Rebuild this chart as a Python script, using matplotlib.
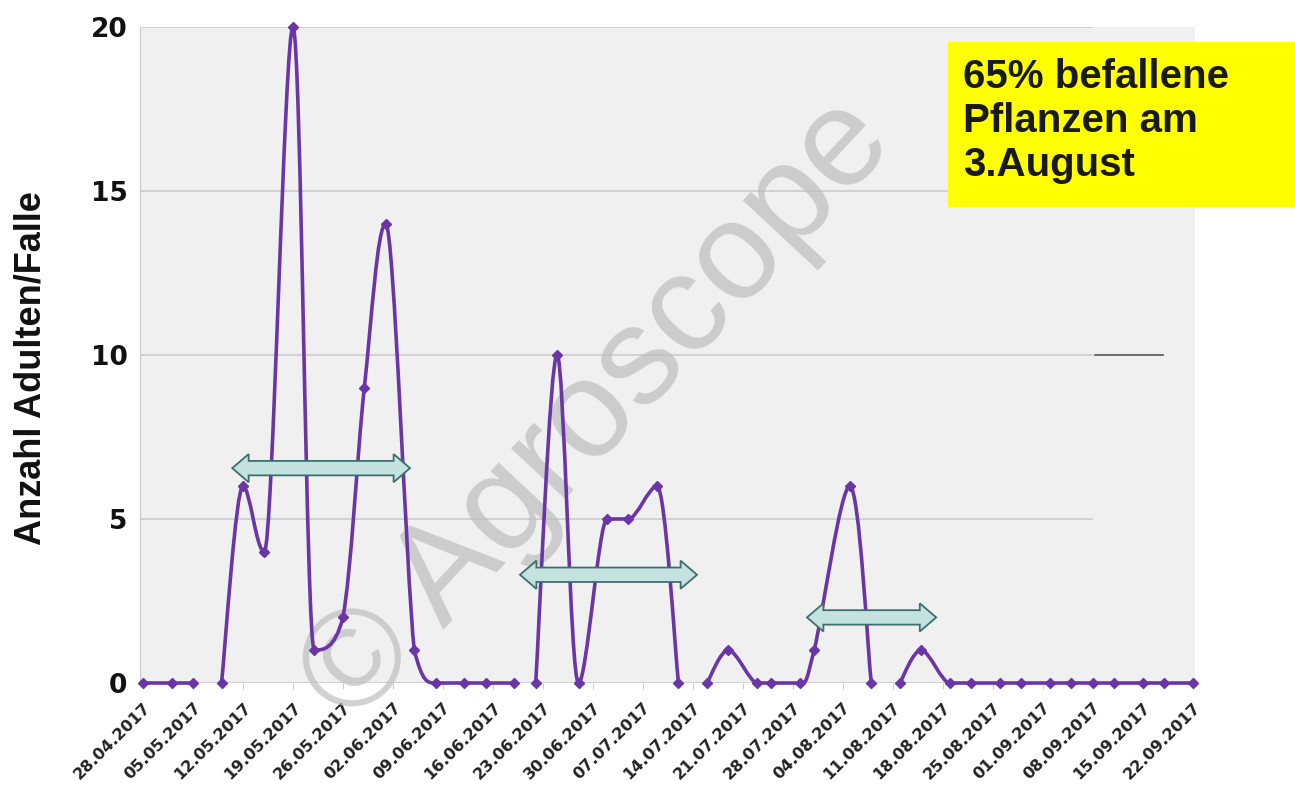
import matplotlib
matplotlib.use('Agg')
import matplotlib.pyplot as plt
import matplotlib.dates as mdates
from matplotlib.path import Path
from matplotlib.patches import PathPatch, Polygon, Rectangle
import numpy as np
import pandas as pd

# Fangdaten (Adulte pro Falle)
daten = ['28.04.2017', '02.05.2017', '05.05.2017', '09.05.2017', '12.05.2017',
         '15.05.2017', '19.05.2017', '22.05.2017', '26.05.2017', '29.05.2017',
         '01.06.2017', '05.06.2017', '08.06.2017', '12.06.2017', '15.06.2017',
         '19.06.2017', '22.06.2017', '25.06.2017', '28.06.2017', '02.07.2017',
         '05.07.2017', '09.07.2017', '12.07.2017', '16.07.2017', '19.07.2017',
         '23.07.2017', '25.07.2017', '29.07.2017', '31.07.2017', '05.08.2017',
         '08.08.2017', '12.08.2017', '15.08.2017', '19.08.2017', '22.08.2017',
         '26.08.2017', '29.08.2017', '02.09.2017', '05.09.2017', '08.09.2017',
         '11.09.2017', '15.09.2017', '18.09.2017', '22.09.2017']
anzahl = [0, 0, 0, 0, 6, 4, 20, 1, 2, 9, 14, 1, 0, 0, 0, 0, 0, 10, 0, 5, 5, 6,
          0, 0, 1, 0, 0, 0, 1, 6, 0, 0, 1, 0, 0, 0, 0, 0, 0, 0, 0, 0, 0, 0]
# nach diesen Daten ist die Linie unterbrochen (leere Zellen)
luecken_nach = ['05.05.2017', '19.06.2017', '12.07.2017', '08.08.2017']

tick_start = '28.04.2017'
tick_ende = '22.09.2017'
y_ticks = [0, 5, 10, 15, 20]
box_text = '65% befallene\nPflanzen am\n3.August'
y_titel = 'Anzahl Adulten/Falle'

lila = '#6a35a6'

x = mdates.date2num(pd.to_datetime(daten, format='%d.%m.%Y'))
y = np.array(anzahl, dtype=float)
x0 = x[0]


def glatt(xs, ys):
    # Bezier-Glaettung, ohne Ueberschwingen ueber die Segmentenden hinaus
    p = np.column_stack([xs, ys])
    n = len(p)
    tang = np.zeros_like(p)
    for i in range(n):
        pa = p[i - 1] if i > 0 else p[i]
        pc = p[i + 1] if i < n - 1 else p[i]
        tang[i] = (pc - pa) / 6
        if 0 < i < n - 1:
            if (p[i, 1] - pa[1]) * (pc[1] - p[i, 1]) <= 0:
                tang[i, 1] = 0
    verts = [p[0]]
    codes = [Path.MOVETO]
    for i in range(n - 1):
        lo, hi = sorted([p[i, 1], p[i + 1, 1]])
        c1 = p[i] + tang[i]
        c2 = p[i + 1] - tang[i + 1]
        c1[1] = np.clip(c1[1], lo, hi)
        c2[1] = np.clip(c2[1], lo, hi)
        verts += [c1, c2, p[i + 1]]
        codes += [Path.CURVE4] * 3
    return Path(verts, codes)


def doppelpfeil(ax, xa, xb, ym):
    kl = 2.3   # kopflaenge in tagen
    kh = 0.43  # halbe kopfhoehe
    sh = 0.22  # halbe schafthoehe
    pts = [(xa, ym), (xa + kl, ym + kh), (xa + kl, ym + sh), (xb - kl, ym + sh),
           (xb - kl, ym + kh), (xb, ym), (xb - kl, ym - kh), (xb - kl, ym - sh),
           (xa + kl, ym - sh), (xa + kl, ym - kh)]
    ax.add_patch(Polygon(pts, closed=True, facecolor='#c3e2e0', edgecolor='#3f6e6e',
                         lw=1.3, zorder=4))


fig = plt.figure(figsize=(12.95, 7.93), dpi=100)
ax = fig.add_axes([0.1081, 0.1387, 0.8147, 0.8273])
ax.set_facecolor('#f0f0f0')

ax.set_xlim(x0 - 0.42, x0 + 147.35)
ax.set_ylim(0, 20)

for v in y_ticks:
    ax.axhline(v, xmin=0, xmax=0.902, color='#c8c8c8', lw=1.1, zorder=1)
ax.axhline(10, xmin=0.905, xmax=0.97, color='#555555', lw=1.2, zorder=1)

# Linie in Segmenten
grenzen = [daten.index(d) + 1 for d in luecken_nach]
start = 0
for g in grenzen + [len(x)]:
    ax.add_patch(PathPatch(glatt(x[start:g], y[start:g]), facecolor='none',
                           edgecolor=lila, lw=2.6, zorder=3, clip_on=False))
    start = g
ax.plot(x, y, linestyle='none', marker='D', markersize=5, color=lila,
        zorder=5, clip_on=False)

# Perioden-Pfeile
doppelpfeil(ax, x0 + 12.5, x0 + 37.4, 6.55)
doppelpfeil(ax, x0 + 52.8, x0 + 77.6, 3.3)
doppelpfeil(ax, x0 + 93.0, x0 + 111.1, 2.0)

# Achsen
ticks = mdates.date2num(pd.date_range(pd.to_datetime(tick_start, format='%d.%m.%Y'),
                                      pd.to_datetime(tick_ende, format='%d.%m.%Y'),
                                      freq='7D'))
ax.set_xticks(ticks)
ax.set_xticklabels([mdates.num2date(t).strftime('%d.%m.%Y') for t in ticks],
                   rotation=45, ha='right', rotation_mode='anchor',
                   fontsize=11.5, fontweight='bold', color='#222222')
ax.tick_params(axis='x', length=4, color='#cccccc', pad=8)
ax.set_yticks(y_ticks)
ax.set_yticklabels([str(v) for v in y_ticks], fontsize=19, fontweight='bold',
                   color='#111111')
ax.tick_params(axis='y', length=0, pad=9)

for s in ['top', 'right', 'bottom']:
    ax.spines[s].set_visible(False)
ax.spines['left'].set_color('#c8c8c8')

ax.set_ylabel(y_titel, family='Liberation Sans', fontweight='bold', fontsize=26,
              color='#111111')
ax.yaxis.set_label_coords(-0.087, 0.48)

# Wasserzeichen
ax.text(0.462, 0.482, '\u00a9 Agroscope', transform=fig.transFigure,
        family='Liberation Sans', fontsize=100, color='#bdbdbd', alpha=0.7,
        rotation=47, ha='center', va='center', zorder=2, clip_on=False)

# gelbe Box
fig.patches.append(Rectangle((948 / 1295, 1 - 207 / 793), (1295 - 948) / 1295,
                             165 / 793, transform=fig.transFigure,
                             facecolor='#ffff00', edgecolor='none', zorder=5))
fig.text(963 / 1295, 1 - 58 / 793, box_text, family='Liberation Sans',
         fontweight='bold', fontsize=29, color='#1a1a1a', va='top', ha='left',
         linespacing=1.2, zorder=6)

fig.savefig('out.png', dpi=100)
